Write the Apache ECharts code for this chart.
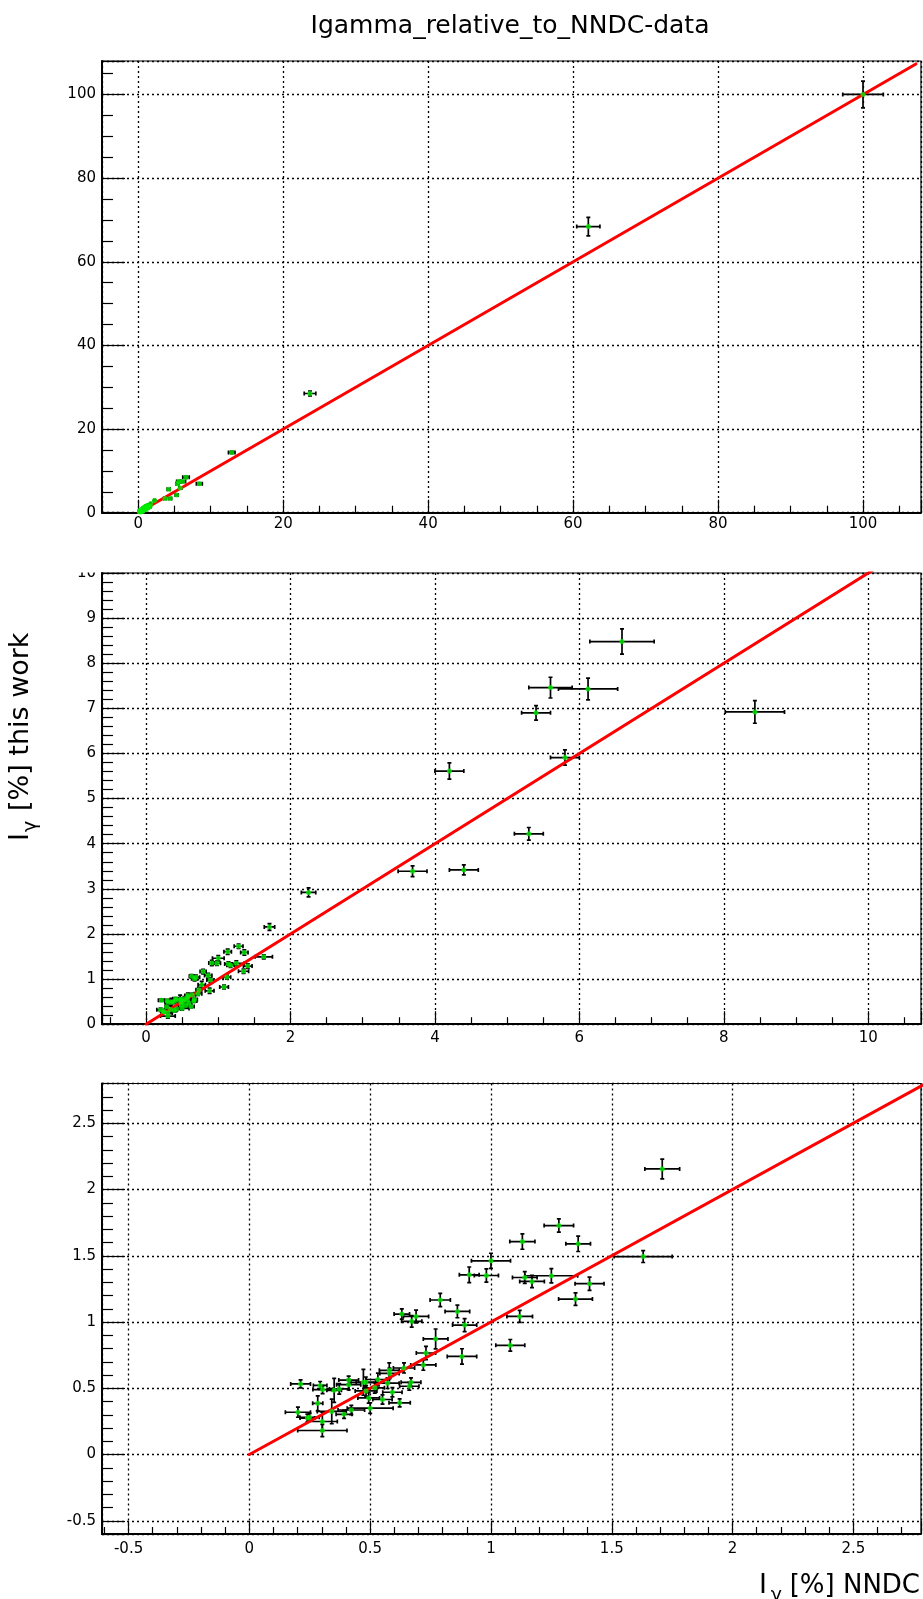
<!DOCTYPE html>
<html><head><meta charset="utf-8">
<script src="https://cdn.jsdelivr.net/npm/echarts@6/dist/echarts.min.js"></script>
<style>html,body{margin:0;padding:0;background:#fff}#c{width:923px;height:1599px}</style>
</head><body><div id="c"></div>
<script>
// ---- data ----
const nndcI = [100, 62.1, 23.7, 12.9, 8.43, 6.59, 6.12, 5.60, 5.40, 5.80,
  4.20, 5.30, 3.69, 4.40, 2.25, 1.709, 1.281, 1.130, 1.361, 1.630,
  1.000, 0.910, 0.981, 1.140, 1.170, 1.250, 1.408, 1.350, 0.790, 0.861,
  1.119, 0.631, 0.690, 0.672, 0.891, 0.771, 1.080, 0.731, 0.880, 0.720,
  0.640, 0.579, 0.580, 0.669, 0.662, 0.572, 0.532, 0.472, 0.482, 0.411,
  0.411, 0.372, 0.351, 0.483, 0.519, 0.592, 0.494, 0.551, 0.622, 0.500,
  0.422, 0.392, 0.341, 0.283, 0.201, 0.240, 0.249, 0.302, 0.302, 0.212,
  0.293, 0.303];
const nndcErr = [2.8, 1.6, 0.8, 0.45, 0.41, 0.445, 0.41, 0.30, 0.20, 0.20,
  0.20, 0.20, 0.20, 0.20, 0.10, 0.072, 0.061, 0.052, 0.051, 0.12,
  0.081, 0.041, 0.05, 0.051, 0.051, 0.109, 0.06, 0.07, 0.042, 0.051,
  0.053, 0.032, 0.052, 0.042, 0.05, 0.051, 0.06, 0.04, 0.061, 0.052,
  0.044, 0.041, 0.04, 0.041, 0.04, 0.048, 0.048, 0.052, 0.04, 0.041,
  0.05, 0.04, 0.03, 0.045, 0.04, 0.04, 0.045, 0.04, 0.044, 0.095,
  0.055, 0.033, 0.06, 0.021, 0.052, 0.03, 0.04, 0.062, 0.102, 0.041,
  0.028, 0.04];
const workI = [100, 68.4, 28.5, 14.4, 6.92, 8.48, 7.43, 7.46, 6.90, 5.91,
  5.61, 4.22, 3.39, 3.42, 2.92, 2.155, 1.728, 1.607, 1.590, 1.494,
  1.462, 1.356, 1.351, 1.336, 1.306, 1.349, 1.289, 1.173, 1.166, 1.080,
  1.042, 1.060, 1.042, 1.005, 0.977, 0.872, 0.824, 0.766, 0.740, 0.676,
  0.653, 0.635, 0.612, 0.545, 0.515, 0.538, 0.566, 0.545, 0.545, 0.562,
  0.527, 0.495, 0.484, 0.480, 0.503, 0.470, 0.427, 0.415, 0.390, 0.350,
  0.336, 0.303, 0.325, 0.386, 0.319, 0.275, 0.281, 0.249, 0.181, 0.533,
  0.521, 0.490];
const workErr = [3.2, 2.2, 0.6, 0.3, 0.25, 0.28, 0.24, 0.23, 0.16, 0.17,
  0.18, 0.14, 0.12, 0.11, 0.10, 0.075, 0.05, 0.058, 0.058, 0.045,
  0.057, 0.059, 0.05, 0.044, 0.046, 0.054, 0.05, 0.047, 0.05, 0.048,
  0.045, 0.039, 0.048, 0.044, 0.049, 0.075, 0.044, 0.05, 0.058, 0.04,
  0.038, 0.057, 0.04, 0.033, 0.03, 0.04, 0.048, 0.098, 0.04, 0.03,
  0.04, 0.04, 0.09, 0.04, 0.04, 0.035, 0.04, 0.035, 0.03, 0.04,
  0.035, 0.03, 0.093, 0.057, 0.038, 0.03, 0.03, 0.07, 0.046, 0.03,
  0.03, 0.03];
const fitX = [0, 107.3];           // fit function range, y = x
// axis ranges and label steps of the three panels
const xMin = [-5, -0.61, -0.61];
const xMax = [108, 10.73, 2.78];
const yMin = [0, 0, -0.6];
const yMax = [108, 10, 2.8];
const xStep = [20, 2, 0.5];
const yStep = [20, 1, 0.5];
const xSplit = [6, 6, 7];
const ySplit = [6, 10, 7];
const xMinor = [4, 4, 5];
const yMinor = [4, 5, 5];
const chartTitle = 'Igamma_relative_to_NNDC-data';

// ---- layout ----
const FONT = 'DejaVu Sans';
const gridTops = [61, 573, 1083.5];
const gridH = [451.7, 451.2, 450.5];
const labelMarginX = [4, 6, 8];

function fmt(step) {
  return function (v) {
    const k = v / step;
    if (Math.abs(k - Math.round(k)) > 1e-6) return '';
    const r = Math.round(v * 1000) / 1000;
    return String(r);
  };
}

const grids = [], xAxes = [], yAxes = [], series = [];
const dotted = { color: '#000', width: 1.3, type: [2, 3] };

for (let i = 0; i < 3; i++) {
  grids.push({ left: 102, right: 2, top: gridTops[i], height: gridH[i],
    containLabel: false, outerBoundsMode: 'none', show: true,
    borderColor: '#000', borderWidth: 1.2, backgroundColor: 'transparent' });
  xAxes.push({ type: 'value', gridIndex: i, min: xMin[i], max: xMax[i], splitNumber: xSplit[i],
    axisLine: { show: true, onZero: false, lineStyle: { color: '#000', width: 2 } },
    axisTick: { show: true, inside: true, length: 13, lineStyle: { color: '#000', width: 1.2 } },
    minorTick: { show: true, splitNumber: xMinor[i], length: 7, lineStyle: { color: '#000', width: 1.2 } },
    splitLine: { show: true, lineStyle: dotted },
    minorSplitLine: { show: false },
    axisLabel: { show: true, margin: labelMarginX[i], color: '#000', fontFamily: FONT, fontSize: 15,
      formatter: fmt(xStep[i]), showMinLabel: true, showMaxLabel: true, hideOverlap: false }
  });
  yAxes.push({ type: 'value', gridIndex: i, min: yMin[i], max: yMax[i], splitNumber: ySplit[i],
    axisLine: { show: true, onZero: false, lineStyle: { color: '#000', width: 2 } },
    axisTick: { show: true, inside: true, length: 23, lineStyle: { color: '#000', width: 1.2 } },
    minorTick: { show: true, splitNumber: yMinor[i], length: 11, lineStyle: { color: '#000', width: 1.2 } },
    splitLine: { show: true, lineStyle: dotted },
    minorSplitLine: { show: false },
    axisLabel: { show: true, margin: 6, color: '#000', fontFamily: FONT, fontSize: 15,
      formatter: fmt(yStep[i]), showMinLabel: true, showMaxLabel: true, hideOverlap: false }
  });

  const pts = [];
  for (let k = 0; k < nndcI.length; k++) {
    if (nndcI[k] >= xMin[i] && nndcI[k] <= xMax[i] && workI[k] >= yMin[i] && workI[k] <= yMax[i])
      pts.push([nndcI[k], workI[k], nndcErr[k], workErr[k]]);
  }
  series.push({ type: 'custom', xAxisIndex: i, yAxisIndex: i, clip: true, z: 3,
    data: pts, encode: { x: 0, y: 1 },
    renderItem: function (params, api) {
      const x = api.value(0), y = api.value(1), ex = api.value(2), ey = api.value(3);
      const l = api.coord([x - ex, y]), r = api.coord([x + ex, y]);
      const t = api.coord([x, y + ey]), b = api.coord([x, y - ey]);
      const st = { stroke: '#000', lineWidth: 1.7 };
      const c = 2;
      return { type: 'group', children: [
        { type: 'line', shape: { x1: l[0], y1: l[1], x2: r[0], y2: r[1] }, style: st },
        { type: 'line', shape: { x1: t[0], y1: t[1], x2: b[0], y2: b[1] }, style: st },
        { type: 'line', shape: { x1: l[0], y1: l[1] - c, x2: l[0], y2: l[1] + c }, style: st },
        { type: 'line', shape: { x1: r[0], y1: r[1] - c, x2: r[0], y2: r[1] + c }, style: st },
        { type: 'line', shape: { x1: t[0] - c, y1: t[1], x2: t[0] + c, y2: t[1] }, style: st },
        { type: 'line', shape: { x1: b[0] - c, y1: b[1], x2: b[0] + c, y2: b[1] }, style: st }
      ] };
    }
  });
  series.push({ type: 'line', xAxisIndex: i, yAxisIndex: i, clip: true, z: 4,
    data: fitX.map(v => [v, v]), showSymbol: false, silent: true,
    lineStyle: { color: '#ff0000', width: 3, cap: 'round' } });
  series.push({ type: 'scatter', xAxisIndex: i, yAxisIndex: i, clip: true, z: 5,
    data: pts.map(p => [p[0], p[1]]), symbol: 'circle', symbolSize: 5,
    itemStyle: { color: '#00ee00', borderWidth: 0 } });
}

const txt = (x, y, text, size, align, valign) => ({ type: 'text', x: x, y: y, z: 100,
  style: { text: text, fontFamily: FONT, fontSize: size, fill: '#000',
    align: align, textAlign: align, verticalAlign: valign, textVerticalAlign: valign } });

const chart = echarts.init(document.getElementById('c'), null, { renderer: 'canvas' });
chart.setOption({
  animation: false,
  backgroundColor: '#fff',
  grid: grids, xAxis: xAxes, yAxis: yAxes, series: series,
  graphic: [
    txt(510, 26, chartTitle, 25, 'center', 'middle'),
    // cut the upper half of the middle panel's top label as in the reference
    { type: 'rect', z: 90, shape: { x: 60, y: 552, width: 40, height: 20.5 }, style: { fill: '#fff' } },
    // x axis title  I_γ [%] NNDC
    txt(920, 1599, '[%] NNDC', 26, 'right', 'bottom'),
    txt(782, 1606, 'γ', 19, 'right', 'bottom'),
    txt(767, 1599, 'I', 27, 'right', 'bottom'),
    // y axis title  I_γ [%] this work (rotated)
    { type: 'group', x: 34, y: 841, rotation: Math.PI / 2, children: [
      txt(0, 0, 'I', 27, 'left', 'bottom'),
      txt(9, 7, 'γ', 19, 'left', 'bottom'),
      txt(30, 0, '[%] this work', 27, 'left', 'bottom')
    ] }
  ]
});
</script></body></html>
